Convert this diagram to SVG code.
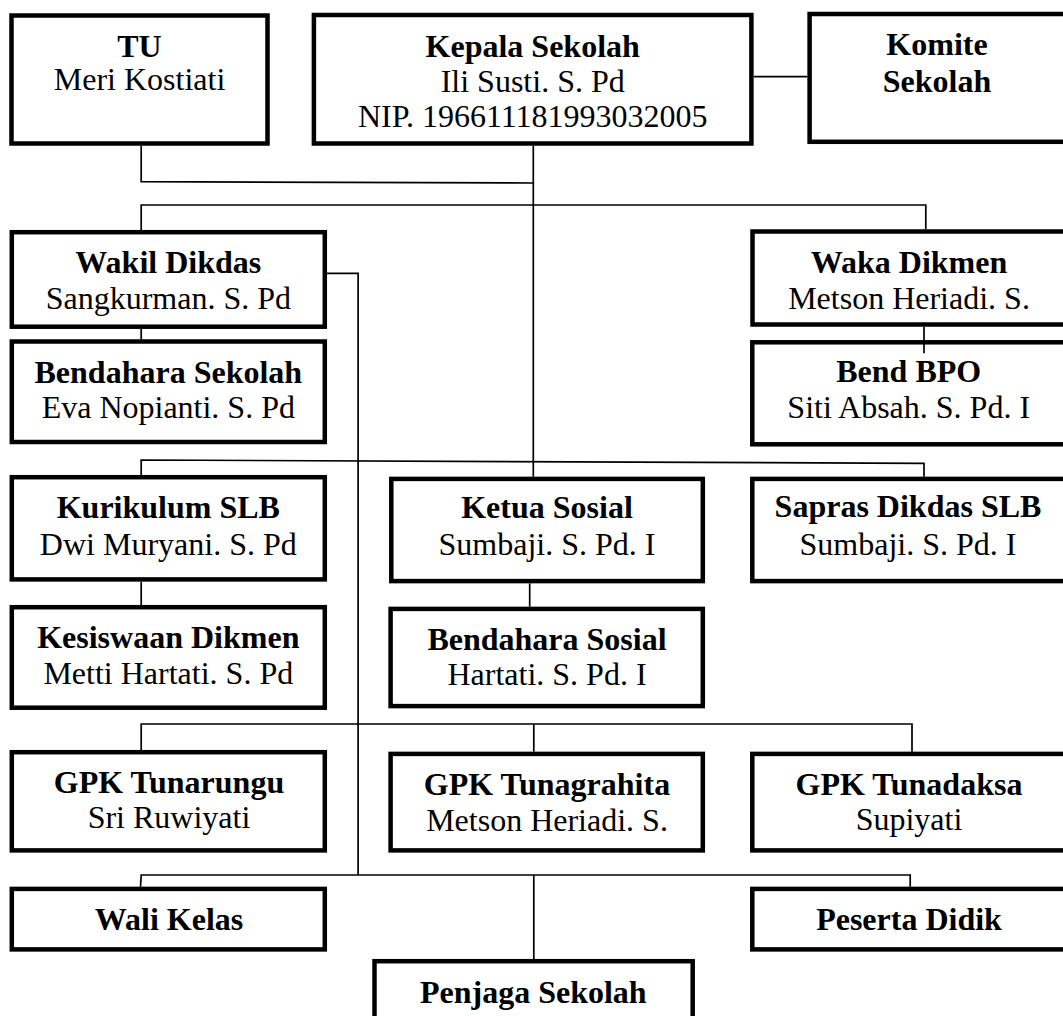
<svg xmlns="http://www.w3.org/2000/svg" width="1063" height="1016" viewBox="0 0 1063 1016">
<style>
.box{fill:#fff;stroke:#000;stroke-width:4.5;}
.ln{fill:none;stroke:#000;stroke-width:1.7;}
text{font-family:"Liberation Serif","Times New Roman",serif;font-size:32px;text-anchor:middle;fill:#000;}
.b{font-weight:bold;}
</style>
<rect width="1063" height="1016" fill="#fff"/>
<g id="tu"><rect class="box" x="11.5" y="15.5" width="256" height="128"/><text class="b" x="139.5" y="56.7">TU</text><text x="139.5" y="90">Meri Kostiati</text></g>
<g id="kepala"><rect class="box" x="313.9" y="15" width="437.5" height="128.5"/><text class="b" x="532.7" y="57">Kepala Sekolah</text><text x="532.7" y="92">Ili Susti. S. Pd</text><text x="532.7" y="127">NIP. 196611181993032005</text></g>
<g id="komite"><rect class="box" x="809.6" y="14" width="256" height="127.8"/><text class="b" x="937" y="55">Komite</text><text class="b" x="937" y="91.7">Sekolah</text></g>
<g id="wakil-dikdas"><rect class="box" x="11.8" y="232.2" width="313" height="94.5"/><text class="b" x="168.3" y="273.3">Wakil Dikdas</text><text x="168.3" y="309">Sangkurman. S. Pd</text></g>
<g id="bendahara-sekolah"><rect class="box" x="11.8" y="341.5" width="313" height="100.5"/><text class="b" x="168.3" y="383.3">Bendahara Sekolah</text><text x="168.3" y="418.3">Eva Nopianti. S. Pd</text></g>
<g id="waka-dikmen"><rect class="box" x="752.5" y="231.5" width="320" height="93"/><text class="b" x="909" y="273.3">Waka Dikmen</text><text x="909" y="309">Metson Heriadi. S.</text></g>
<g id="bend-bpo"><rect class="box" x="752.3" y="342.3" width="320" height="102"/><text class="b" x="908.7" y="381.7">Bend BPO</text><text x="908.7" y="418.3">Siti Absah. S. Pd. I</text></g>
<g id="kurikulum"><rect class="box" x="11.8" y="477.2" width="313" height="102.2"/><text class="b" x="168.3" y="517.7">Kurikulum SLB</text><text x="168.3" y="555">Dwi Muryani. S. Pd</text></g>
<g id="kesiswaan"><rect class="box" x="11.8" y="607.2" width="313" height="100.5"/><text class="b" x="168.3" y="648.3">Kesiswaan Dikmen</text><text x="168.3" y="684">Metti Hartati. S. Pd</text></g>
<g id="ketua-sosial"><rect class="box" x="391.3" y="478.9" width="311.5" height="102.2"/><text class="b" x="547" y="517.7">Ketua Sosial</text><text x="547" y="555">Sumbaji. S. Pd. I</text></g>
<g id="bendahara-sosial"><rect class="box" x="390.6" y="608.9" width="312.2" height="97.2"/><text class="b" x="547" y="650">Bendahara Sosial</text><text x="547" y="685">Hartati. S. Pd. I</text></g>
<g id="sapras"><rect class="box" x="752.3" y="478.9" width="320" height="102.2"/><text class="b" x="908" y="516.7">Sapras Dikdas SLB</text><text x="908" y="555">Sumbaji. S. Pd. I</text></g>
<g id="gpk-tunarungu"><rect class="box" x="11.8" y="752.2" width="313" height="98.2"/><text class="b" x="169" y="792.7">GPK Tunarungu</text><text x="169" y="828.3">Sri Ruwiyati</text></g>
<g id="gpk-tunagrahita"><rect class="box" x="390.6" y="753.9" width="312.2" height="96.5"/><text class="b" x="547" y="795">GPK Tunagrahita</text><text x="547" y="830.7">Metson Heriadi. S.</text></g>
<g id="gpk-tunadaksa"><rect class="box" x="752.3" y="753.9" width="320" height="96.5"/><text class="b" x="909" y="795">GPK Tunadaksa</text><text x="909" y="830">Supiyati</text></g>
<g id="wali-kelas"><rect class="box" x="11.8" y="888.9" width="313" height="60.5"/><text class="b" x="169" y="930">Wali Kelas</text></g>
<g id="peserta-didik"><rect class="box" x="752.3" y="888.9" width="320" height="60.5"/><text class="b" x="909" y="930">Peserta Didik</text></g>
<g id="penjaga"><rect class="box" x="374.5" y="961.2" width="318.2" height="80"/><text class="b" x="533.3" y="1002.7">Penjaga Sekolah</text></g>
<g id="connectors">
<path class="ln" d="M753.7 76.7H807.4"/>
<path class="ln" d="M141.2 145.7V181.7L533.3 183"/>
<path class="ln" d="M533.3 145.7V476.7"/>
<path class="ln" d="M141.2 230V205H925.8V229.3"/>
<path class="ln" d="M327 273.3H358.1V875"/>
<path class="ln" d="M141.2 329V339.3"/>
<path class="ln" d="M924 326.7V353.3"/>
<path class="ln" d="M141.2 475V460L924 463.3V476.7"/>
<path class="ln" d="M141.2 581.7V605"/>
<path class="ln" d="M529.7 583.3V606.7"/>
<path class="ln" d="M141.2 750V724H912V751.7"/>
<path class="ln" d="M533.8 724V751.7"/>
<path class="ln" d="M140.5 886.7L141.2 875H910.2V886.7"/>
<path class="ln" d="M533.8 875V959"/>
</g>
</svg>
